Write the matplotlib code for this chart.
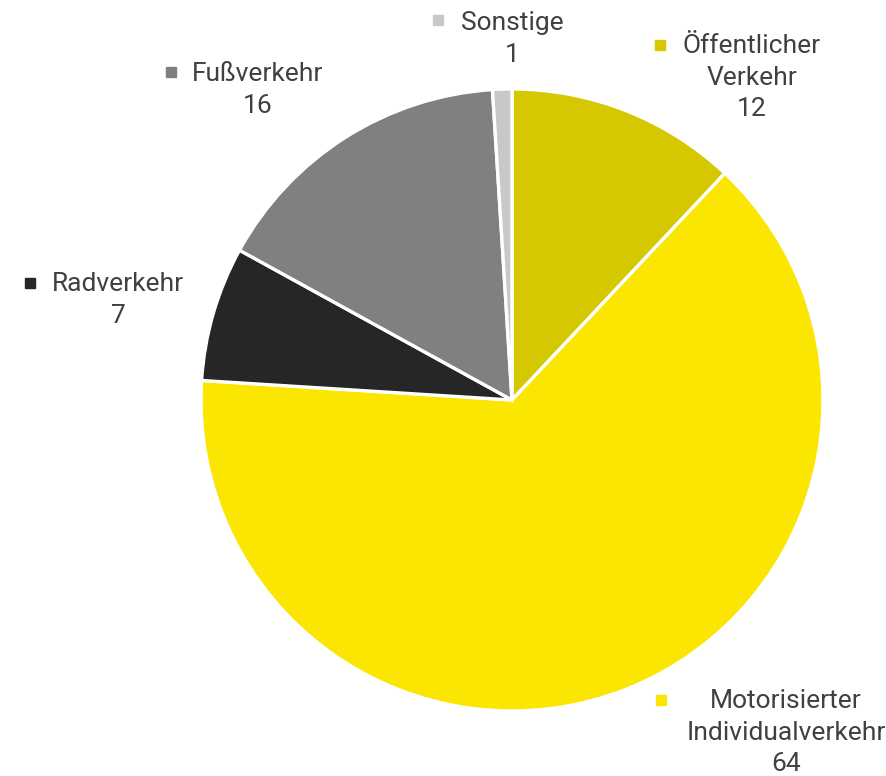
import matplotlib.pyplot as plt
from matplotlib.lines import Line2D

# Anteile der Verkehrsmittel (in %)
kategorien = ['Öffentlicher\nVerkehr', 'Motorisierter\nIndividualverkehr',
              'Radverkehr', 'Fußverkehr', 'Sonstige']
werte = [12, 64, 7, 16, 1]
farben = ['#D5C700', '#FAE600', '#262626', '#808080', '#C8C8C8']

# Position der Beschriftungen (Pixel: Mitte erste Zeile) und Marker
label_pos = [(752, 45), (786, 700), (118, 283), (258, 73), (512, 22)]
marker_pos = [(660, 45), (661, 700), (30, 283), (171, 72), (438, 20)]

W, H = 886, 776
fig = plt.figure(figsize=(W / 100, H / 100), dpi=100)
plt.rcParams['font.family'] = ['Roboto', 'DejaVu Sans']

cx, cy, r = 512, 400, 311
ax = fig.add_axes([(cx - r) / W, (H - cy - r) / H, 2 * r / W, 2 * r / H])
ax.pie(werte, colors=farben, startangle=90, counterclock=False,
       wedgeprops=dict(edgecolor='white', linewidth=2.4))
ax.set_xlim(-1, 1)
ax.set_ylim(-1, 1)
ax.set_aspect('equal')
ax.axis('off')


def fx(px):
    return px / W


def fy(py):
    return 1 - py / H


for kat, wert, farbe, (lx, ly), (mx, my) in zip(kategorien, werte, farben,
                                                 label_pos, marker_pos):
    fig.text(fx(lx), fy(ly - 11), kat + '\n' + str(wert), ha='center', va='top',
             fontsize=19, color='#404040', linespacing=1.4,
             transform=fig.transFigure)
    fig.add_artist(Line2D([fx(mx)], [fy(my)], marker='s', markersize=6.5,
                          color=farbe, transform=fig.transFigure))

fig.savefig('out.png', dpi=100)
